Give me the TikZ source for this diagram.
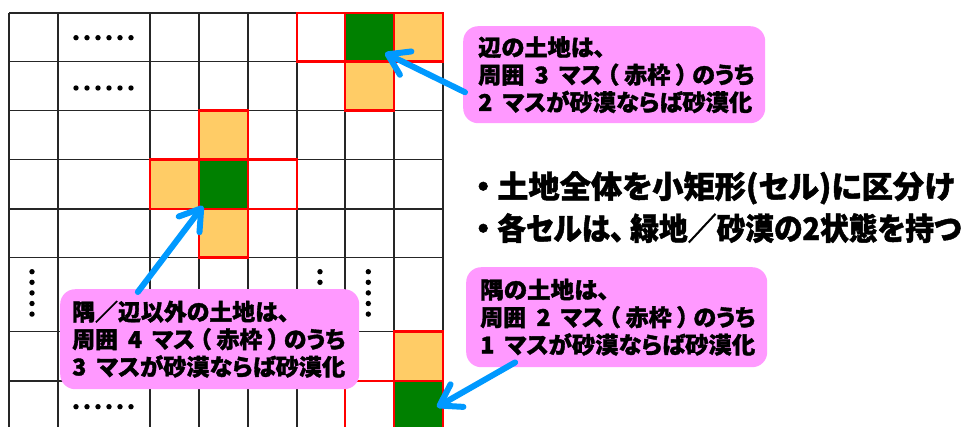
\documentclass[tikz,border=0pt]{standalone}
\usepackage{fontspec}
\setmainfont{Noto Sans CJK JP}[RawFeature=+palt, BoldFont={Noto Sans CJK JP Black}, BoldFeatures={RawFeature=+palt, FakeBold=1.5}]
\usetikzlibrary{arrows.meta,calc}
\definecolor{grn}{RGB}{0,128,0}
\definecolor{org}{RGB}{255,204,102}
\definecolor{pnk}{RGB}{255,153,255}
\definecolor{blu}{RGB}{0,153,255}
\newsavebox\fitbox
\newlength\fitlen
\newcommand\fitw[2]{\sbox\fitbox{#2}\setlength\fitlen{\wd\fitbox}\pgfmathsetmacro\fitratio{#1/\fitlen}\scalebox{\fitratio}[1]{\usebox\fitbox}}
\newcommand\gapsp{\hspace{0.45em}}
\newcommand\lp{\hspace{0.2em}（\hspace{0.25em}}
\newcommand\rp{\hspace{0.25em}）\hspace{0.2em}}
\begin{document}
\begin{tikzpicture}[x=1pt,y=-1pt,
  bubble/.style={fill=pnk, rounded corners=15pt, anchor=north west, inner ysep=0pt, align=left, font=\fontsize{23}{27.5}\selectfont\bfseries},
  gridline/.style={line width=1.4pt, black!85},
  redbox/.style={draw=red, line width=2.6pt},
  callout/.style={draw=blu, line width=6pt, line cap=round, -{Straight Barb[length=20pt,width=26pt,round]}},
  bullettext/.style={anchor=base west, inner sep=0pt, font=\fontsize{31}{34}\selectfont\bfseries}
]
\useasboundingbox (0,0) rectangle (961,426);
\begin{scope}
\clip (0,0) rectangle (961,426);
% cell fills
\fill[org] (394,13) rectangle (443,61.7);
\fill[org] (345,61.7) rectangle (394,110.7);
\fill[org] (199,110.7) rectangle (248,159.7);
\fill[org] (150,159.7) rectangle (199,209);
\fill[org] (199,209) rectangle (248,257.7);
\fill[org] (394,331.7) rectangle (443,381);
\fill[grn] (345,13) rectangle (394,61.7);
\fill[grn] (199,159.7) rectangle (248,209);
\fill[grn] (394,381) rectangle (443,430);
% grid
\foreach \x in {9,58,150,199,248,297,345,394,443}
  \draw[gridline] (\x,13) -- (\x,430);
\foreach \y in {13,61.7,110.7,159.7,209,257.7,331.7,381}
  \draw[gridline] (9,\y) -- (443,\y);
% red frames
\draw[redbox] (297,13) rectangle (345,61.7);
\draw[redbox] (345,13) rectangle (394,61.7);
\draw[redbox] (394,13) rectangle (443,61.7);
\draw[redbox] (345,61.7) rectangle (394,110.7);
\draw[redbox] (199,110.7) rectangle (248,159.7);
\draw[redbox] (150,159.7) rectangle (199,209);
\draw[redbox] (199,159.7) rectangle (248,209);
\draw[redbox] (248,159.7) rectangle (297,209);
\draw[redbox] (199,209) rectangle (248,257.7);
\draw[redbox] (394,331.7) rectangle (443,381);
\draw[redbox] (394,381) rectangle (443,430);
\draw[redbox] (345,381) rectangle (394,430);
% dots
\foreach \y in {37.7,88,406.7}
  \foreach \i in {0,...,5}
    \fill (76+\i*11,\y) circle (2.7);
\foreach \x in {32,320,368.3}
  \foreach \i in {0,...,4}
    \fill (\x,271.7+\i*10.6) circle (2.7);
\end{scope}
% bubbles
\node[bubble, inner xsep=15pt, text width=272pt, minimum height=97pt] (b1) at (463,26)
  {\fitw{127}{辺の土地は、}\\\fitw{276}{周囲\gapsp3\gapsp マス\lp 赤枠\rp のうち}\\\fitw{274}{2\gapsp マスが砂漠ならば砂漠化}};
\node[bubble, inner xsep=12pt, text width=275pt, minimum height=100pt] (b2) at (60,289)
  {\fitw{217}{隅／辺以外の土地は、}\\\fitw{273}{周囲\gapsp4\gapsp マス\lp 赤枠\rp のうち}\\\fitw{273}{3\gapsp マスが砂漠ならば砂漠化}};
\node[bubble, inner xsep=14pt, text width=273pt, minimum height=100pt] (b3) at (466,267)
  {\fitw{129}{隅の土地は、}\\\fitw{275}{周囲\gapsp2\gapsp マス\lp 赤枠\rp のうち}\\\fitw{275}{1\gapsp マスが砂漠ならば砂漠化}};
% bullet texts
\node[bullettext] (t1) at (469,198) {\makebox[28pt][c]{・}\fitw{457}{土地全体を小矩形(セル)に区分け}};
\node[bullettext] (t2) at (469,240) {\makebox[28pt][c]{・}\fitw{464}{各セルは、\hspace{0.2em}緑地／砂漠の2状態を持つ}};
% arrows
\coordinate (tip1) at (385,53);
\coordinate (tip2) at (203,206);
\coordinate (tip3) at (437,407);
\draw[callout] ($(b1.south west)!0.32!(b1.north west)+(2,0)$) -- (tip1);
\draw[callout] ($(b2.north west)!0.26!(b2.north east)+(0,3)$) -- (tip2);
\draw[callout] ($(b3.south west)!0.163!(b3.south east)+(0,-5)$) -- (tip3);
\end{tikzpicture}
\end{document}
